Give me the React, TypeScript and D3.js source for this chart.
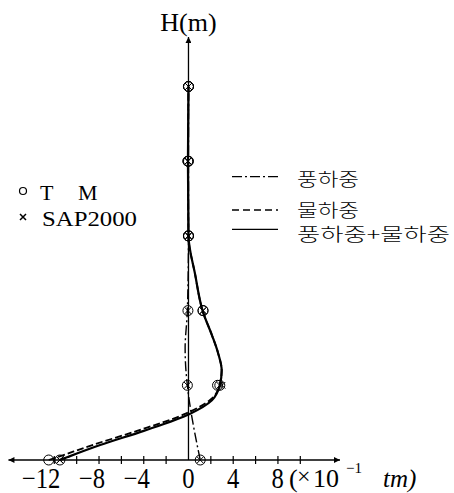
import React, { useEffect, useRef } from 'react';
import * as d3 from 'd3';

const W = 454;
const H = 493;

// levels (storey index) and values in x10^-1 tm
const levels = [0, 1, 2, 3, 4, 5];
const tmWind = [1.05, -0.1, -0.05, 0, 0, 0];
const tmWater = [-12.5, 2.8, 1.3, 0, -0.05, 0];
const tmCombined = [-11.5, 2.6, 1.3, 0, -0.05, 0];
const sapWind = [1.05, -0.1, -0.05, 0, -0.05, 0];
const sapWater = [-11.5, 3.0, 1.3, 0, -0.05, 0];
const sapCombined = [-11.5, 2.8, 1.3, 0, -0.05, 0];

// curves (height in levels, value)
const windH = [0, 1, 1.25, 1.5, 2, 3, 4, 5];
const windV = [1.05, -0.1, -0.25, -0.3, -0.1, 0, 0, 0];
const curveH = [0, 0.04, 0.2, 0.39, 0.62, 0.8, 1, 1.2, 1.43, 1.67, 1.98, 2.48, 3, 4, 5];
const waterV = [-12.5, -11.7, -8.6, -4.6, -0.25, 1.9, 2.8, 2.97, 2.65, 2.1, 1.3, 0.6, 0, -0.05, 0];
const combinedV = [-11.5, -10.8, -7.9, -4.0, 0.15, 2.1, 2.8, 2.97, 2.65, 2.1, 1.3, 0.6, 0, -0.05, 0];

const xTicks = [-12, -10, -8, -6, -4, -2, 2, 4, 6, 8, 10];
const xLabels = [-12, -8, -4, 0, 4, 8];
const legendLines = ['풍하중', '물하중', '풍하중+물하중'];

const serif = '"Liberation Serif", "Times New Roman", serif';
const kr = '"Noto Sans CJK KR", sans-serif';

export default function App() {
  const ref = useRef<SVGSVGElement>(null);

  useEffect(() => {
    const svg = d3.select(ref.current);
    svg.selectAll('*').remove();

    const x = d3.scaleLinear().domain([-12, 10]).range([54.3, 300.3]);
    const y = d3.scaleLinear().domain([0, 5]).range([460, 86.5]);

    const defs = svg.append('defs');
    defs.append('marker')
      .attr('id', 'arr')
      .attr('viewBox', '0 0 10 10')
      .attr('refX', 10).attr('refY', 5)
      .attr('markerWidth', 11).attr('markerHeight', 6)
      .attr('markerUnits', 'userSpaceOnUse')
      .attr('orient', 'auto-start-reverse')
      .append('path').attr('d', 'M0,0 L10,5 L0,10 Z').attr('fill', '#000');

    // x axis
    svg.append('line')
      .attr('x1', x(-16.1)).attr('x2', x(13.55))
      .attr('y1', y(0)).attr('y2', y(0))
      .attr('stroke', '#000').attr('stroke-width', 1.3)
      .attr('marker-start', 'url(#arr)').attr('marker-end', 'url(#arr)');
    svg.append('g').selectAll('line').data(xTicks).join('line')
      .attr('x1', d => x(d)).attr('x2', d => x(d))
      .attr('y1', y(0) - 4).attr('y2', y(0) + 4)
      .attr('stroke', '#000').attr('stroke-width', 1.2);
    svg.append('g').selectAll('text').data(xLabels).join('text')
      .attr('transform', d => `translate(${x(d) + 6},488) scale(0.85,1)`)
      .attr('text-anchor', 'end')
      .attr('font-family', serif).attr('font-size', 29)
      .text(d => (d < 0 ? '\u2212' + Math.abs(d) : String(d)));

    // unit label
    const unit = svg.append('g').attr('font-family', serif).attr('fill', '#000');
    unit.append('text').attr('x', 289).attr('y', 487).attr('font-size', 26).text('(');
    unit.append('text').attr('x', 297).attr('y', 484).attr('font-size', 24).text('\u00d7');
    unit.append('text').attr('x', 313).attr('y', 487).attr('font-size', 26).text('10');
    unit.append('text').attr('x', 346).attr('y', 473).attr('font-size', 15).text('\u22121');
    unit.append('text').attr('x', 383).attr('y', 487).attr('font-size', 25)
      .attr('font-style', 'italic').text('tm)');

    // y axis
    svg.append('line')
      .attr('x1', x(0)).attr('x2', x(0))
      .attr('y1', y(0)).attr('y2', 37)
      .attr('stroke', '#000').attr('stroke-width', 1.3)
      .attr('marker-end', 'url(#arr)');
    svg.append('text')
      .attr('x', x(0)).attr('y', 31)
      .attr('text-anchor', 'middle')
      .attr('font-family', serif).attr('font-size', 26)
      .text('H(m)');

    const line = d3.line<[number, number]>()
      .x(d => x(d[1])).y(d => y(d[0]))
      .curve(d3.curveMonotoneY);

    svg.append('path')
      .attr('d', line(windH.map((h, i) => [h, windV[i]] as [number, number])))
      .attr('fill', 'none').attr('stroke', '#000').attr('stroke-width', 1.4)
      .attr('stroke-dasharray', '10,3,2,3');
    svg.append('path')
      .attr('d', line(curveH.map((h, i) => [h, waterV[i]] as [number, number])))
      .attr('fill', 'none').attr('stroke', '#000').attr('stroke-width', 1.8)
      .attr('stroke-dasharray', '7,3');
    svg.append('path')
      .attr('d', line(curveH.map((h, i) => [h, combinedV[i]] as [number, number])))
      .attr('fill', 'none').attr('stroke', '#000').attr('stroke-width', 2.2);

    // TM circles
    const tmPts: [number, number][] = [];
    [tmWind, tmWater, tmCombined].forEach(s => s.forEach((v, i) => tmPts.push([levels[i], v])));
    svg.append('g').selectAll('circle').data(tmPts).join('circle')
      .attr('cx', d => x(d[1])).attr('cy', d => y(d[0])).attr('r', 5)
      .attr('fill', 'none').attr('stroke', '#000').attr('stroke-width', 1);

    // SAP2000 crosses
    const sapPts: [number, number][] = [];
    [sapWind, sapWater, sapCombined].forEach(s => s.forEach((v, i) => sapPts.push([levels[i], v])));
    svg.append('g').selectAll('path').data(sapPts).join('path')
      .attr('d', d => {
        const cx = x(d[1]), cy = y(d[0]), s = 3.3;
        return `M${cx - s},${cy - s}L${cx + s},${cy + s}M${cx - s},${cy + s}L${cx + s},${cy - s}`;
      })
      .attr('stroke', '#000').attr('stroke-width', 1);

    // marker legend
    svg.append('circle').attr('cx', 23).attr('cy', 191).attr('r', 3.5)
      .attr('fill', 'none').attr('stroke', '#000').attr('stroke-width', 1.2);
    svg.append('text').attr('x', 40).attr('y', 200).attr('font-family', serif).attr('font-size', 22).text('T');
    svg.append('text').attr('x', 78).attr('y', 200).attr('font-family', serif).attr('font-size', 22).text('M');
    svg.append('path').attr('d', 'M20,214L26,220M20,220L26,214')
      .attr('stroke', '#000').attr('stroke-width', 1.5);
    svg.append('text').attr('x', 42).attr('y', 226)
      .attr('font-family', serif).attr('font-size', 21)
      .attr('textLength', 95).attr('lengthAdjust', 'spacingAndGlyphs')
      .text('SAP2000');

    // line legend
    const ly = [176.7, 210, 229.3];
    const ty = [186, 217, 241];
    const dashes = ['10,3,2,3', '7,4', null];
    const lg = svg.append('g');
    legendLines.forEach((t, i) => {
      lg.append('line')
        .attr('x1', 232).attr('x2', 278).attr('y1', ly[i]).attr('y2', ly[i])
        .attr('stroke', '#000').attr('stroke-width', 1.3)
        .attr('stroke-dasharray', dashes[i]);
      lg.append('text')
        .attr('x', 297).attr('y', ty[i])
        .attr('font-family', kr).attr('font-size', 18).attr('font-weight', 300)
        .attr('textLength', i === 2 ? 153 : 62).attr('lengthAdjust', 'spacingAndGlyphs')
        .text(t);
    });
  }, []);

  return (
    <div style={{ position: 'absolute', left: 0, top: 0, background: '#fff' }}>
      <svg ref={ref} width={W} height={H} style={{ display: 'block' }} />
    </div>
  );
}
